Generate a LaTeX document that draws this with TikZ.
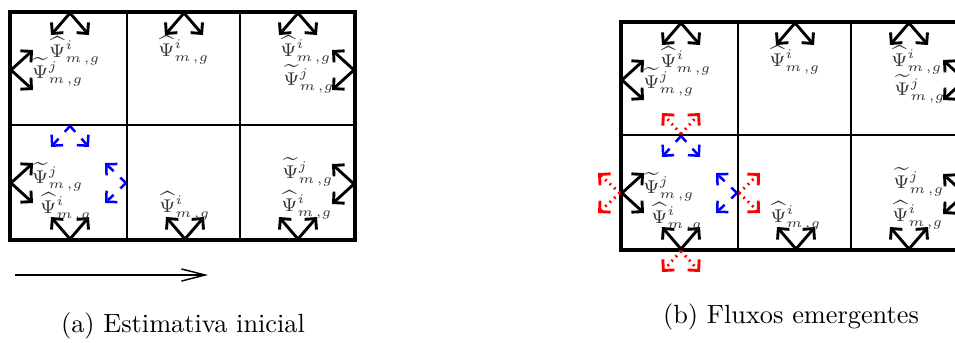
\documentclass[tikz,border=0pt]{standalone}
\usetikzlibrary{arrows.meta}
\tikzset{
  gridline/.style={line width=0.75pt},
  borderline/.style={line width=1.6pt},
  flux/.style={line width=1.1pt, -{Straight Barb[angle=90:4.2pt, sharp]}},
  bluef/.style={flux, blue, line width=0.95pt, dash pattern=on 3pt off 3.5pt},
  redf/.style={flux, red, dash pattern=on 0.7pt off 1.6pt},
  lab/.style={inner sep=0pt, font=\fontsize{7}{8}\selectfont, text=black!80},
  capt/.style={font=\fontsize{10}{12}\selectfont, anchor=base},
  dirarrow/.style={line width=0.55pt, -{Straight Barb[length=9pt, width=4.6pt]}},
}
\newcommand\fluxpair[5]{%
  \coordinate (#1o) at (#3);
  \coordinate (#1l) at (#4);
  \coordinate (#1r) at (#5);
  \draw[#2] (#1o) -- (#1l);
  \draw[#2] (#1o) -- (#1r);
}
\newcommand\hatlab{$\widehat{\Psi}^{i}_{m\mkern2mu,g}$}
\newcommand\tillab{$\widetilde{\Psi}^{j}_{m\mkern2mu,g}$}
\newcommand\gridpanel[1]{%
  \coordinate (#1c1t) at (127,12); \coordinate (#1c1b) at (127,240);
  \coordinate (#1c2t) at (240,12); \coordinate (#1c2b) at (240,240);
  \coordinate (#1rl) at (10,125);  \coordinate (#1rr) at (355,125);
  \coordinate (#1nw) at (10,12);   \coordinate (#1se) at (355,240);
  \draw[gridline] (#1c1t) -- (#1c1b);
  \draw[gridline] (#1c2t) -- (#1c2b);
  \draw[gridline] (#1rl) -- (#1rr);
  \draw[borderline] (#1nw) rectangle (#1se);
  % black outgoing fluxes
  \fluxpair{#1t1}{flux}{70,13}{51,35}{89,35}
  \fluxpair{#1t2}{flux}{184,13}{165,35}{203,35}
  \fluxpair{#1t3}{flux}{298,13}{279,35}{317,35}
  \fluxpair{#1b1}{flux}{70,239}{51,217}{89,217}
  \fluxpair{#1b2}{flux}{185,239}{166,217}{204,217}
  \fluxpair{#1b3}{flux}{298,239}{279,217}{317,217}
  \fluxpair{#1l1}{flux}{11,70}{33,50}{33,90}
  \fluxpair{#1l2}{flux}{11,183}{33,163}{33,203}
  \fluxpair{#1r1}{flux}{354,70}{332,50}{332,90}
  \fluxpair{#1r2}{flux}{354,184}{332,164}{332,204}
  % blue incoming fluxes
  \fluxpair{#1u}{bluef}{70,126}{51,147}{89,147}
  \fluxpair{#1v}{bluef}{126,183}{105,163}{105,203}
  % labels
  \node[lab] (#1h11) at (75,51) {\hatlab};
  \node[lab] (#1w11) at (58,72) {\tillab};
  \node[lab] (#1h12) at (184,50) {\hatlab};
  \node[lab] (#1h13) at (306,50) {\hatlab};
  \node[lab] (#1w13) at (309,79) {\tillab};
  \node[lab] (#1w21) at (58,177) {\tillab};
  \node[lab] (#1h21) at (66,207) {\hatlab};
  \node[lab] (#1h22) at (185,206) {\hatlab};
  \node[lab] (#1w23) at (308,172) {\tillab};
  \node[lab] (#1h23) at (307,205) {\hatlab};
}
\begin{document}
\begin{tikzpicture}[x=0.38pt, y=-0.38pt]
  \useasboundingbox (0,0) rectangle (955,342);
  \clip (0,0) rectangle (955,342);
  % panel (a)
  \gridpanel{a}
  \coordinate (arrS) at (15,275);
  \coordinate (arrE) at (208,275);
  \draw[dirarrow] (arrS) -- (arrE);
  \node[capt] (capa) at (183,332) {(a) Estimativa inicial};
  % panel (b)
  \begin{scope}[shift={(611,10)}]
    \gridpanel{b}
    \fluxpair{brt}{redf}{70,124}{51,103}{89,103}
    \fluxpair{brr}{redf}{128,183}{149,163}{149,203}
    \fluxpair{brl}{redf}{9,183}{-13,163}{-13,203}
    \fluxpair{brb}{redf}{70,241}{51,262}{89,262}
  \end{scope}
  \node[capt] (capb) at (791,323) {(b) Fluxos emergentes};
\end{tikzpicture}
\end{document}
